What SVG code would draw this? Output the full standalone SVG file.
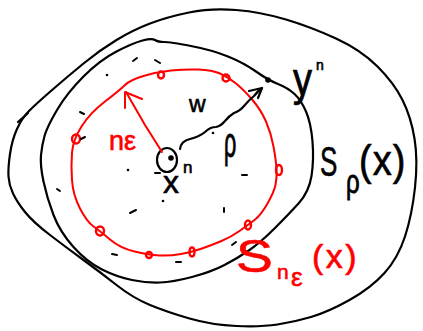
<svg xmlns="http://www.w3.org/2000/svg" width="423" height="331" viewBox="0 0 423 331">
<style>
.k{fill:none;stroke:#000;stroke-width:2.2;stroke-linecap:round;stroke-linejoin:round}
.r{fill:none;stroke:#f00;stroke-width:2;stroke-linecap:round;stroke-linejoin:round}
.rd{fill:none;stroke:#f00;stroke-width:2.4}
.m{fill:none;stroke:#000;stroke-width:2;stroke-linecap:round}
.d{fill:#000}
.t{font-family:"Liberation Sans",Arial,sans-serif;fill:#000;stroke:#000;stroke-width:0.6}
.tr{font-family:"Liberation Sans",Arial,sans-serif;fill:#f00;stroke:#f00;stroke-width:0.6}
</style>
<rect width="423" height="331" fill="#fff"/>
<g id="outer-region">
<path class="k" d="M8.5,176.5 Q8,168 10,154 Q12,140 17,129 Q22,118 29,111 Q36,104 51.5,90.5 Q67,77 83.5,63.5 Q100,50 116.5,40 Q133,30 150,23.5 Q167,17 189,12.5 Q211,8 236,10 Q261,12 286,19.5 Q311,27 336,38.5 Q361,50 377.5,66.5 Q394,83 402.5,100 Q411,117 414.5,138.5 Q418,160 415,187.5 Q412,215 405,236.5 Q398,258 384.5,273 Q371,288 349.5,300 Q328,312 311,317 Q294,322 277.5,324.5 Q261,327 236.5,326 Q212,325 189.5,318.5 Q167,312 150,305 Q133,298 116.5,285 Q100,272 83.5,260 Q67,248 50,235 Q33,222 25,212 Q17,202 13,193.5 Q9,185 8.5,176.5"/>
<path class="k" d="M18,122 L28,113"/>
</g>
<g id="S-rho">
<path class="k" d="M43.5,181.5 Q40,165 41,155 Q42,145 44.5,136 Q47,127 57,110 Q67,93 83.5,76.5 Q100,60 116.5,51.5 Q133,43 142.5,40.5 Q152,38 155,40 Q158,42 164,42 Q170,42 191,46 Q212,50 228,56.5 Q244,63 256,71.5 Q268,80 278,84 Q288,88 294.5,94 Q301,100 306,111.5 Q311,123 312.5,141.5 Q314,160 311.5,176 Q309,192 298.5,203.5 Q288,215 274.5,228.5 Q261,242 249.5,250 Q238,258 224.5,265 Q211,272 192,277 Q173,282 160,282.5 Q147,283 132,280 Q117,277 102,269.5 Q87,262 73.5,247 Q60,232 53.5,215 Q47,198 43.5,181.5 Z"/>
</g>
<g id="S-neps">
<path class="r" d="M72,180 Q71,165 72,152.5 Q73,140 81.5,126.5 Q90,113 105,101.5 Q120,90 125,85 Q130,80 143.5,76 Q157,72 171,70.5 Q185,69 198.5,69.5 Q212,70 220,73.5 Q228,77 236,83.5 Q244,90 252.5,100 Q261,110 266,121.5 Q271,133 273.5,146.5 Q276,160 276.5,169 Q277,178 275.5,185 Q274,192 267.5,203.5 Q261,215 254.5,220 Q248,225 239.5,231 Q231,237 221.5,241 Q212,245 202,248.5 Q192,252 181,254 Q170,256 159.5,255.5 Q149,255 134.5,251.5 Q120,248 110,239.5 Q100,231 93.5,226.5 Q87,222 80,208.5 Q73,195 72,180 Z"/>
<ellipse class="rd" cx="161" cy="75" rx="3" ry="3.5"/>
<ellipse class="rd" cx="226" cy="78" rx="3.5" ry="3.5"/>
<ellipse class="rd" cx="76" cy="139" rx="4" ry="4.5"/>
<ellipse class="rd" cx="279" cy="170" rx="3" ry="5"/>
<ellipse class="rd" cx="100" cy="231" rx="4" ry="4.5"/>
<ellipse class="rd" cx="248" cy="225" rx="3" ry="4.5"/>
<ellipse class="rd" cx="149" cy="255" rx="3" ry="3"/>
<ellipse class="rd" cx="192" cy="252" rx="2.5" ry="4.5"/>
</g>
<g id="center-x">
<ellipse class="k" cx="167" cy="160" rx="10" ry="12"/>
<circle class="d" cx="171" cy="158" r="2.8"/>
</g>
<g id="point-y">
<circle class="d" cx="268" cy="80" r="2.8"/>
</g>
<g id="marks">
<path class="m" d="M133,61 L137,58 M155,60 L160,63 M80,112 L84,114 M81,139 L85,137 M57,189 L60,191 M130,213 L136,210 M112,254 L117,255 M176,262 L181,262 M242,175 L247,175 M224,208 L224,212 M232,245 L236,242 M155,173 L160,173"/>
<circle class="d" cx="107" cy="75" r="1.3"/>
<circle class="d" cx="128" cy="170" r="1.3"/>
<circle class="d" cx="163" cy="201" r="1.3"/>
<circle class="d" cx="213" cy="133" r="1.3"/>
</g>
<g id="connectors">
<path class="r" d="M162,152 L145,125 L126,92"/>
<path class="r" d="M125,108 L125,92 L142,99"/>
<path class="k" d="M180,149 Q181,141 190,139 Q199,137 205,132 Q210,127 216,127 Q221,126 225,121 Q229,116 234,113 Q240,111 244,106 Q249,100 254,96 Q258,91 262,88"/>
<path class="k" d="M249,91 L262,88 L258,98"/>
</g>
<g id="labels">
<text class="tr" x="109" y="150" font-size="27">nε</text>
<text class="t" x="189" y="112" font-size="23">w</text>
<text class="t" transform="translate(224,157) scale(0.8,1.6)" font-size="27">ρ</text>
<text class="t" x="163" y="193" font-size="32">x</text>
<text class="t" x="183" y="173" font-size="17">n</text>
<text class="t" transform="translate(293,95) scale(1,1.2)" font-size="38">y</text>
<text class="t" x="316" y="70" font-size="14">n</text>
<text class="t" transform="translate(320,176) scale(0.62,1)" font-size="42">S</text>
<text class="t" transform="translate(346,193) scale(1,1.4)" font-size="24">ρ</text>
<text class="t" transform="translate(359,175) scale(1,1.1)" font-size="38" letter-spacing="1">(x)</text>
<text class="tr" transform="translate(236,272) scale(1.2,1)" font-size="46">S</text>
<text class="tr" x="277" y="279" font-size="21">n</text>
<text class="tr" x="291" y="286" font-size="26">ε</text>
<text class="tr" x="312" y="268" font-size="34" letter-spacing="2.5">(x)</text>
</g>
</svg>
